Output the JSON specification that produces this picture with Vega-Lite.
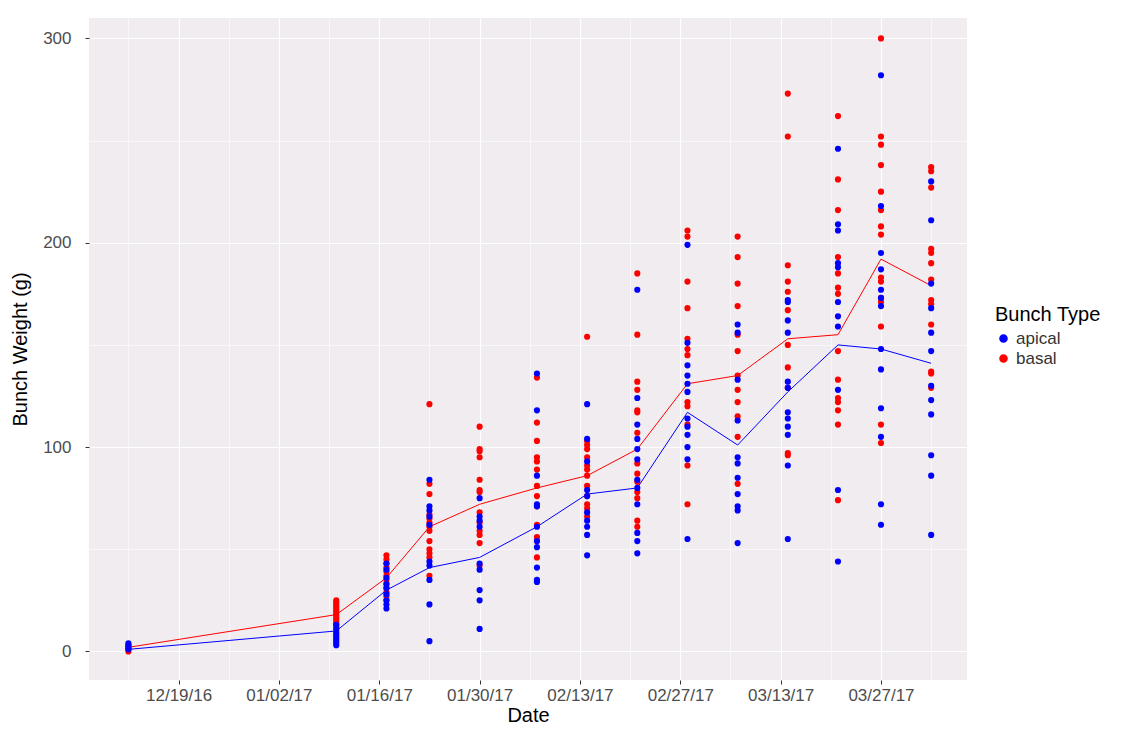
{
  "$schema": "https://vega.github.io/schema/vega-lite/v6.json",
  "width": 878,
  "height": 662,
  "autosize": {"type": "pad"},
  "padding": {"left": 10, "top": 18, "right": 0, "bottom": 0},
  "background": "white",
  "config": {
    "view": {"fill": "#F0ECEF", "stroke": null},
    "font": "Liberation Sans"
  },
  "datasets": {
    "pts": [
      {"d":"2016-12-12","t":"basal","w":2},{"d":"2016-12-12","t":"basal","w":1},{"d":"2016-12-12","t":"basal","w":0},{"d":"2016-12-12","t":"basal","w":3},
      {"d":"2016-12-12","t":"apical","w":4},{"d":"2016-12-12","t":"apical","w":3},{"d":"2016-12-12","t":"apical","w":2},{"d":"2016-12-12","t":"apical","w":1},

      {"d":"2017-01-10","t":"basal","w":25},{"d":"2017-01-10","t":"basal","w":24},{"d":"2017-01-10","t":"basal","w":23},{"d":"2017-01-10","t":"basal","w":22},{"d":"2017-01-10","t":"basal","w":21},{"d":"2017-01-10","t":"basal","w":20},{"d":"2017-01-10","t":"basal","w":19},{"d":"2017-01-10","t":"basal","w":18},{"d":"2017-01-10","t":"basal","w":17},{"d":"2017-01-10","t":"basal","w":16},{"d":"2017-01-10","t":"basal","w":15},{"d":"2017-01-10","t":"basal","w":14},{"d":"2017-01-10","t":"basal","w":13},{"d":"2017-01-10","t":"basal","w":12},{"d":"2017-01-10","t":"basal","w":10},
      {"d":"2017-01-10","t":"apical","w":13},{"d":"2017-01-10","t":"apical","w":11},{"d":"2017-01-10","t":"apical","w":9},{"d":"2017-01-10","t":"apical","w":8},{"d":"2017-01-10","t":"apical","w":7},{"d":"2017-01-10","t":"apical","w":6},{"d":"2017-01-10","t":"apical","w":5},{"d":"2017-01-10","t":"apical","w":4},{"d":"2017-01-10","t":"apical","w":3},

      {"d":"2017-01-17","t":"basal","w":47},{"d":"2017-01-17","t":"basal","w":45},{"d":"2017-01-17","t":"basal","w":43},{"d":"2017-01-17","t":"basal","w":41},{"d":"2017-01-17","t":"basal","w":39},{"d":"2017-01-17","t":"basal","w":37},{"d":"2017-01-17","t":"basal","w":35},{"d":"2017-01-17","t":"basal","w":33},{"d":"2017-01-17","t":"basal","w":31},{"d":"2017-01-17","t":"basal","w":29},{"d":"2017-01-17","t":"basal","w":27},{"d":"2017-01-17","t":"basal","w":25},
      {"d":"2017-01-17","t":"apical","w":43},{"d":"2017-01-17","t":"apical","w":40},{"d":"2017-01-17","t":"apical","w":36},{"d":"2017-01-17","t":"apical","w":33},{"d":"2017-01-17","t":"apical","w":31},{"d":"2017-01-17","t":"apical","w":28},{"d":"2017-01-17","t":"apical","w":25},{"d":"2017-01-17","t":"apical","w":23},{"d":"2017-01-17","t":"apical","w":21},

      {"d":"2017-01-23","t":"basal","w":121},{"d":"2017-01-23","t":"basal","w":82},{"d":"2017-01-23","t":"basal","w":77},{"d":"2017-01-23","t":"basal","w":67},{"d":"2017-01-23","t":"basal","w":65},{"d":"2017-01-23","t":"basal","w":63},{"d":"2017-01-23","t":"basal","w":61},{"d":"2017-01-23","t":"basal","w":59},{"d":"2017-01-23","t":"basal","w":54},{"d":"2017-01-23","t":"basal","w":50},{"d":"2017-01-23","t":"basal","w":48},{"d":"2017-01-23","t":"basal","w":46},{"d":"2017-01-23","t":"basal","w":37},
      {"d":"2017-01-23","t":"apical","w":84},{"d":"2017-01-23","t":"apical","w":71},{"d":"2017-01-23","t":"apical","w":69},{"d":"2017-01-23","t":"apical","w":66},{"d":"2017-01-23","t":"apical","w":62},{"d":"2017-01-23","t":"apical","w":44},{"d":"2017-01-23","t":"apical","w":42},{"d":"2017-01-23","t":"apical","w":35},{"d":"2017-01-23","t":"apical","w":23},{"d":"2017-01-23","t":"apical","w":5},

      {"d":"2017-01-30","t":"basal","w":110},{"d":"2017-01-30","t":"basal","w":99},{"d":"2017-01-30","t":"basal","w":98},{"d":"2017-01-30","t":"basal","w":95},{"d":"2017-01-30","t":"basal","w":84},{"d":"2017-01-30","t":"basal","w":79},{"d":"2017-01-30","t":"basal","w":78},{"d":"2017-01-30","t":"basal","w":68},{"d":"2017-01-30","t":"basal","w":63},{"d":"2017-01-30","t":"basal","w":59},{"d":"2017-01-30","t":"basal","w":57},{"d":"2017-01-30","t":"basal","w":53},{"d":"2017-01-30","t":"basal","w":42},
      {"d":"2017-01-30","t":"apical","w":75},{"d":"2017-01-30","t":"apical","w":66},{"d":"2017-01-30","t":"apical","w":64},{"d":"2017-01-30","t":"apical","w":61},{"d":"2017-01-30","t":"apical","w":43},{"d":"2017-01-30","t":"apical","w":40},{"d":"2017-01-30","t":"apical","w":30},{"d":"2017-01-30","t":"apical","w":25},{"d":"2017-01-30","t":"apical","w":11},

      {"d":"2017-02-07","t":"basal","w":134},{"d":"2017-02-07","t":"basal","w":112},{"d":"2017-02-07","t":"basal","w":103},{"d":"2017-02-07","t":"basal","w":95},{"d":"2017-02-07","t":"basal","w":93},{"d":"2017-02-07","t":"basal","w":89},{"d":"2017-02-07","t":"basal","w":81},{"d":"2017-02-07","t":"basal","w":76},{"d":"2017-02-07","t":"basal","w":71},{"d":"2017-02-07","t":"basal","w":62},{"d":"2017-02-07","t":"basal","w":56},{"d":"2017-02-07","t":"basal","w":54},{"d":"2017-02-07","t":"basal","w":46},
      {"d":"2017-02-07","t":"apical","w":136},{"d":"2017-02-07","t":"apical","w":118},{"d":"2017-02-07","t":"apical","w":86},{"d":"2017-02-07","t":"apical","w":72},{"d":"2017-02-07","t":"apical","w":71},{"d":"2017-02-07","t":"apical","w":61},{"d":"2017-02-07","t":"apical","w":54},{"d":"2017-02-07","t":"apical","w":51},{"d":"2017-02-07","t":"apical","w":41},{"d":"2017-02-07","t":"apical","w":35},{"d":"2017-02-07","t":"apical","w":34},

      {"d":"2017-02-14","t":"basal","w":154},{"d":"2017-02-14","t":"basal","w":103},{"d":"2017-02-14","t":"basal","w":101},{"d":"2017-02-14","t":"basal","w":99},{"d":"2017-02-14","t":"basal","w":95},{"d":"2017-02-14","t":"basal","w":91},{"d":"2017-02-14","t":"basal","w":89},{"d":"2017-02-14","t":"basal","w":86},{"d":"2017-02-14","t":"basal","w":81},{"d":"2017-02-14","t":"basal","w":76},{"d":"2017-02-14","t":"basal","w":72},{"d":"2017-02-14","t":"basal","w":70},{"d":"2017-02-14","t":"basal","w":66},
      {"d":"2017-02-14","t":"apical","w":121},{"d":"2017-02-14","t":"apical","w":104},{"d":"2017-02-14","t":"apical","w":93},{"d":"2017-02-14","t":"apical","w":79},{"d":"2017-02-14","t":"apical","w":76},{"d":"2017-02-14","t":"apical","w":68},{"d":"2017-02-14","t":"apical","w":64},{"d":"2017-02-14","t":"apical","w":61},{"d":"2017-02-14","t":"apical","w":57},{"d":"2017-02-14","t":"apical","w":47},

      {"d":"2017-02-21","t":"basal","w":185},{"d":"2017-02-21","t":"basal","w":155},{"d":"2017-02-21","t":"basal","w":132},{"d":"2017-02-21","t":"basal","w":128},{"d":"2017-02-21","t":"basal","w":118},{"d":"2017-02-21","t":"basal","w":117},{"d":"2017-02-21","t":"basal","w":107},{"d":"2017-02-21","t":"basal","w":92},{"d":"2017-02-21","t":"basal","w":87},{"d":"2017-02-21","t":"basal","w":83},{"d":"2017-02-21","t":"basal","w":78},{"d":"2017-02-21","t":"basal","w":75},{"d":"2017-02-21","t":"basal","w":64},{"d":"2017-02-21","t":"basal","w":61},
      {"d":"2017-02-21","t":"apical","w":177},{"d":"2017-02-21","t":"apical","w":124},{"d":"2017-02-21","t":"apical","w":111},{"d":"2017-02-21","t":"apical","w":104},{"d":"2017-02-21","t":"apical","w":99},{"d":"2017-02-21","t":"apical","w":94},{"d":"2017-02-21","t":"apical","w":84},{"d":"2017-02-21","t":"apical","w":80},{"d":"2017-02-21","t":"apical","w":72},{"d":"2017-02-21","t":"apical","w":58},{"d":"2017-02-21","t":"apical","w":54},{"d":"2017-02-21","t":"apical","w":48},

      {"d":"2017-02-28","t":"basal","w":206},{"d":"2017-02-28","t":"basal","w":203},{"d":"2017-02-28","t":"basal","w":181},{"d":"2017-02-28","t":"basal","w":168},{"d":"2017-02-28","t":"basal","w":153},{"d":"2017-02-28","t":"basal","w":148},{"d":"2017-02-28","t":"basal","w":145},{"d":"2017-02-28","t":"basal","w":122},{"d":"2017-02-28","t":"basal","w":120},{"d":"2017-02-28","t":"basal","w":111},{"d":"2017-02-28","t":"basal","w":91},{"d":"2017-02-28","t":"basal","w":72},
      {"d":"2017-02-28","t":"apical","w":199},{"d":"2017-02-28","t":"apical","w":151},{"d":"2017-02-28","t":"apical","w":140},{"d":"2017-02-28","t":"apical","w":135},{"d":"2017-02-28","t":"apical","w":131},{"d":"2017-02-28","t":"apical","w":127},{"d":"2017-02-28","t":"apical","w":114},{"d":"2017-02-28","t":"apical","w":110},{"d":"2017-02-28","t":"apical","w":106},{"d":"2017-02-28","t":"apical","w":100},{"d":"2017-02-28","t":"apical","w":94},{"d":"2017-02-28","t":"apical","w":55},

      {"d":"2017-03-07","t":"basal","w":203},{"d":"2017-03-07","t":"basal","w":193},{"d":"2017-03-07","t":"basal","w":180},{"d":"2017-03-07","t":"basal","w":169},{"d":"2017-03-07","t":"basal","w":155},{"d":"2017-03-07","t":"basal","w":147},{"d":"2017-03-07","t":"basal","w":135},{"d":"2017-03-07","t":"basal","w":128},{"d":"2017-03-07","t":"basal","w":122},{"d":"2017-03-07","t":"basal","w":115},{"d":"2017-03-07","t":"basal","w":105},{"d":"2017-03-07","t":"basal","w":82},
      {"d":"2017-03-07","t":"apical","w":160},{"d":"2017-03-07","t":"apical","w":156},{"d":"2017-03-07","t":"apical","w":133},{"d":"2017-03-07","t":"apical","w":113},{"d":"2017-03-07","t":"apical","w":95},{"d":"2017-03-07","t":"apical","w":92},{"d":"2017-03-07","t":"apical","w":85},{"d":"2017-03-07","t":"apical","w":77},{"d":"2017-03-07","t":"apical","w":71},{"d":"2017-03-07","t":"apical","w":69},{"d":"2017-03-07","t":"apical","w":53},

      {"d":"2017-03-14","t":"basal","w":273},{"d":"2017-03-14","t":"basal","w":252},{"d":"2017-03-14","t":"basal","w":189},{"d":"2017-03-14","t":"basal","w":181},{"d":"2017-03-14","t":"basal","w":176},{"d":"2017-03-14","t":"basal","w":167},{"d":"2017-03-14","t":"basal","w":150},{"d":"2017-03-14","t":"basal","w":139},{"d":"2017-03-14","t":"basal","w":129},{"d":"2017-03-14","t":"basal","w":97},{"d":"2017-03-14","t":"basal","w":96},
      {"d":"2017-03-14","t":"apical","w":172},{"d":"2017-03-14","t":"apical","w":171},{"d":"2017-03-14","t":"apical","w":162},{"d":"2017-03-14","t":"apical","w":156},{"d":"2017-03-14","t":"apical","w":132},{"d":"2017-03-14","t":"apical","w":129},{"d":"2017-03-14","t":"apical","w":117},{"d":"2017-03-14","t":"apical","w":114},{"d":"2017-03-14","t":"apical","w":110},{"d":"2017-03-14","t":"apical","w":106},{"d":"2017-03-14","t":"apical","w":91},{"d":"2017-03-14","t":"apical","w":55},

      {"d":"2017-03-21","t":"basal","w":262},{"d":"2017-03-21","t":"basal","w":231},{"d":"2017-03-21","t":"basal","w":216},{"d":"2017-03-21","t":"basal","w":193},{"d":"2017-03-21","t":"basal","w":185},{"d":"2017-03-21","t":"basal","w":178},{"d":"2017-03-21","t":"basal","w":175},{"d":"2017-03-21","t":"basal","w":147},{"d":"2017-03-21","t":"basal","w":133},{"d":"2017-03-21","t":"basal","w":124},{"d":"2017-03-21","t":"basal","w":122},{"d":"2017-03-21","t":"basal","w":118},{"d":"2017-03-21","t":"basal","w":111},{"d":"2017-03-21","t":"basal","w":74},
      {"d":"2017-03-21","t":"apical","w":246},{"d":"2017-03-21","t":"apical","w":209},{"d":"2017-03-21","t":"apical","w":206},{"d":"2017-03-21","t":"apical","w":190},{"d":"2017-03-21","t":"apical","w":188},{"d":"2017-03-21","t":"apical","w":171},{"d":"2017-03-21","t":"apical","w":164},{"d":"2017-03-21","t":"apical","w":159},{"d":"2017-03-21","t":"apical","w":128},{"d":"2017-03-21","t":"apical","w":79},{"d":"2017-03-21","t":"apical","w":44},

      {"d":"2017-03-27","t":"basal","w":300},{"d":"2017-03-27","t":"basal","w":252},{"d":"2017-03-27","t":"basal","w":248},{"d":"2017-03-27","t":"basal","w":238},{"d":"2017-03-27","t":"basal","w":225},{"d":"2017-03-27","t":"basal","w":216},{"d":"2017-03-27","t":"basal","w":208},{"d":"2017-03-27","t":"basal","w":204},{"d":"2017-03-27","t":"basal","w":183},{"d":"2017-03-27","t":"basal","w":181},{"d":"2017-03-27","t":"basal","w":173},{"d":"2017-03-27","t":"basal","w":171},{"d":"2017-03-27","t":"basal","w":159},{"d":"2017-03-27","t":"basal","w":111},{"d":"2017-03-27","t":"basal","w":102},
      {"d":"2017-03-27","t":"apical","w":282},{"d":"2017-03-27","t":"apical","w":218},{"d":"2017-03-27","t":"apical","w":195},{"d":"2017-03-27","t":"apical","w":187},{"d":"2017-03-27","t":"apical","w":177},{"d":"2017-03-27","t":"apical","w":173},{"d":"2017-03-27","t":"apical","w":169},{"d":"2017-03-27","t":"apical","w":148},{"d":"2017-03-27","t":"apical","w":138},{"d":"2017-03-27","t":"apical","w":119},{"d":"2017-03-27","t":"apical","w":105},{"d":"2017-03-27","t":"apical","w":72},{"d":"2017-03-27","t":"apical","w":62},

      {"d":"2017-04-03","t":"basal","w":237},{"d":"2017-04-03","t":"basal","w":235},{"d":"2017-04-03","t":"basal","w":227},{"d":"2017-04-03","t":"basal","w":197},{"d":"2017-04-03","t":"basal","w":195},{"d":"2017-04-03","t":"basal","w":190},{"d":"2017-04-03","t":"basal","w":182},{"d":"2017-04-03","t":"basal","w":172},{"d":"2017-04-03","t":"basal","w":170},{"d":"2017-04-03","t":"basal","w":160},{"d":"2017-04-03","t":"basal","w":137},{"d":"2017-04-03","t":"basal","w":136},{"d":"2017-04-03","t":"basal","w":129},
      {"d":"2017-04-03","t":"apical","w":230},{"d":"2017-04-03","t":"apical","w":211},{"d":"2017-04-03","t":"apical","w":180},{"d":"2017-04-03","t":"apical","w":168},{"d":"2017-04-03","t":"apical","w":156},{"d":"2017-04-03","t":"apical","w":147},{"d":"2017-04-03","t":"apical","w":130},{"d":"2017-04-03","t":"apical","w":123},{"d":"2017-04-03","t":"apical","w":116},{"d":"2017-04-03","t":"apical","w":96},{"d":"2017-04-03","t":"apical","w":86},{"d":"2017-04-03","t":"apical","w":57}
    ],
    "means": [
      {"d":"2016-12-12","t":"basal","w":2},{"d":"2017-01-10","t":"basal","w":18},{"d":"2017-01-17","t":"basal","w":36},{"d":"2017-01-23","t":"basal","w":61},{"d":"2017-01-30","t":"basal","w":72},{"d":"2017-02-07","t":"basal","w":80},{"d":"2017-02-14","t":"basal","w":86},{"d":"2017-02-21","t":"basal","w":99},{"d":"2017-02-28","t":"basal","w":131},{"d":"2017-03-07","t":"basal","w":135},{"d":"2017-03-14","t":"basal","w":153},{"d":"2017-03-21","t":"basal","w":155},{"d":"2017-03-27","t":"basal","w":192},{"d":"2017-04-03","t":"basal","w":179},
      {"d":"2016-12-12","t":"apical","w":1},{"d":"2017-01-10","t":"apical","w":10},{"d":"2017-01-17","t":"apical","w":30},{"d":"2017-01-23","t":"apical","w":41},{"d":"2017-01-30","t":"apical","w":46},{"d":"2017-02-07","t":"apical","w":61},{"d":"2017-02-14","t":"apical","w":77},{"d":"2017-02-21","t":"apical","w":80},{"d":"2017-02-28","t":"apical","w":117},{"d":"2017-03-07","t":"apical","w":101},{"d":"2017-03-14","t":"apical","w":127},{"d":"2017-03-21","t":"apical","w":150},{"d":"2017-03-27","t":"apical","w":148},{"d":"2017-04-03","t":"apical","w":141}
    ]
  },
  "encoding": {
    "x": {
      "field": "d",
      "type": "temporal",
      "title": "Date",
      "scale": {
        "type": "utc",
        "domain": [{"year": 2016, "month": 12, "date": 6, "hours": 12, "utc": true}, {"year": 2017, "month": 4, "date": 8, "utc": true}]
      },
      "axis": {
        "values": [
          {"year": 2016, "month": 12, "date": 12, "utc": true},
          {"year": 2016, "month": 12, "date": 19, "utc": true},
          {"year": 2016, "month": 12, "date": 26, "utc": true},
          {"year": 2017, "month": 1, "date": 2, "utc": true},
          {"year": 2017, "month": 1, "date": 9, "utc": true},
          {"year": 2017, "month": 1, "date": 16, "utc": true},
          {"year": 2017, "month": 1, "date": 23, "utc": true},
          {"year": 2017, "month": 1, "date": 30, "utc": true},
          {"year": 2017, "month": 2, "date": 6, "utc": true},
          {"year": 2017, "month": 2, "date": 13, "utc": true},
          {"year": 2017, "month": 2, "date": 20, "utc": true},
          {"year": 2017, "month": 2, "date": 27, "utc": true},
          {"year": 2017, "month": 3, "date": 6, "utc": true},
          {"year": 2017, "month": 3, "date": 13, "utc": true},
          {"year": 2017, "month": 3, "date": 20, "utc": true},
          {"year": 2017, "month": 3, "date": 27, "utc": true},
          {"year": 2017, "month": 4, "date": 3, "utc": true}
        ],
        "labelExpr": "indexof('12/19/16 01/02/17 01/16/17 01/30/17 02/13/17 02/27/17 03/13/17 03/27/17', utcFormat(datum.value, '%m/%d/%y')) >= 0 ? utcFormat(datum.value, '%m/%d/%y') : ''",
        "tickOpacity": {"condition": {"test": "indexof('12/19/16 01/02/17 01/16/17 01/30/17 02/13/17 02/27/17 03/13/17 03/27/17', utcFormat(datum.value, '%m/%d/%y')) >= 0", "value": 1}, "value": 0},
        "gridWidth": {"condition": {"test": "indexof('12/19/16 01/02/17 01/16/17 01/30/17 02/13/17 02/27/17 03/13/17 03/27/17', utcFormat(datum.value, '%m/%d/%y')) >= 0", "value": 1.2}, "value": 0.6},
        "gridColor": "white",
        "domain": false,
        "tickColor": "#333333",
        "tickSize": 4,
        "labelFontSize": 17,
        "labelColor": "#4d4d4d",
        "labelPadding": 3,
        "titleFontSize": 20,
        "titleFontWeight": "normal",
        "titleColor": "black",
        "titlePadding": 2
      }
    },
    "y": {
      "field": "w",
      "type": "quantitative",
      "title": "Bunch Weight (g)",
      "scale": {"domain": [-14, 310], "nice": false, "zero": false},
      "axis": {
        "values": [0, 50, 100, 150, 200, 250, 300],
        "labelExpr": "datum.value % 100 == 0 ? datum.label : ''",
        "tickOpacity": {"condition": {"test": "datum.value % 100 == 0", "value": 1}, "value": 0},
        "gridWidth": {"condition": {"test": "datum.value % 100 == 0", "value": 1.2}, "value": 0.6},
        "gridColor": "white",
        "domain": false,
        "tickColor": "#333333",
        "tickSize": 4,
        "labelFontSize": 17,
        "labelColor": "#4d4d4d",
        "labelPadding": 14,
        "titleFontSize": 20,
        "titleFontWeight": "normal",
        "titleColor": "black",
        "titlePadding": 12
      }
    },
    "color": {
      "field": "t",
      "type": "nominal",
      "title": "Bunch Type",
      "scale": {"domain": ["apical", "basal"], "range": ["#0000FF", "#FF0000"]},
      "legend": {
        "titleFontSize": 20,
        "titleFontWeight": "normal",
        "titleColor": "black",
        "labelFontSize": 17,
        "labelColor": "#333333",
        "symbolType": "circle",
        "symbolSize": 50,
        "orient": "none",
        "legendX": 906,
        "legendY": 287
      }
    }
  },
  "layer": [
    {
      "data": {"name": "means"},
      "mark": {"type": "line", "strokeWidth": 1},
      "encoding": {}
    },
    {
      "data": {"name": "pts"},
      "mark": {"type": "circle", "size": 38, "opacity": 1}
    }
  ]
}
